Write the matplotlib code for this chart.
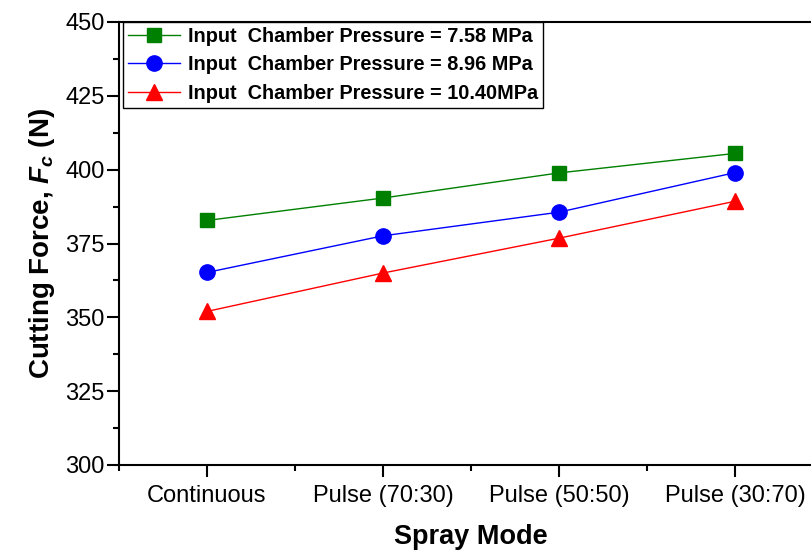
import matplotlib
matplotlib.use("Agg")
import matplotlib.pyplot as plt
from matplotlib.ticker import MultipleLocator, FixedLocator

plt.rcParams['font.family'] = ['Liberation Sans', 'DejaVu Sans']
plt.rcParams['mathtext.fontset'] = 'custom'
plt.rcParams['mathtext.it'] = 'Liberation Sans:italic:bold'
plt.rcParams['mathtext.rm'] = 'Liberation Sans:bold'

categories = ["Continuous", "Pulse (70:30)", "Pulse (50:50)", "Pulse (30:70)"]
series_labels = ["Input  Chamber Pressure = 7.58 MPa",
                 "Input  Chamber Pressure = 8.96 MPa",
                 "Input  Chamber Pressure = 10.40MPa"]
force_758 = [382.8, 390.4, 398.9, 405.5]
force_896 = [365.2, 377.6, 385.6, 399.0]
force_1040 = [352.0, 365.0, 376.8, 389.3]

fig = plt.figure(figsize=(8.11, 5.52), dpi=100)
ax = fig.add_axes([119/811, 1-465/552, 704/811, (465-22)/552])

x = list(range(len(categories)))
styles = [(force_758, 'green', 's', 9.5),
          (force_896, 'blue', 'o', 11),
          (force_1040, 'red', '^', 11.5)]
for (vals, c, m, ms), lab in zip(styles, series_labels):
    ax.plot(x, vals, color=c, marker=m, markersize=ms, linewidth=1.0,
            markeredgecolor=c, label=lab)

ax.set_xlim(-0.5, 3.5)
ax.set_ylim(300, 450)
ax.set_xticks(x)
ax.set_xticklabels(categories)
ax.xaxis.set_minor_locator(FixedLocator([-0.5, 0.5, 1.5, 2.5]))
ax.yaxis.set_major_locator(MultipleLocator(25))
ax.yaxis.set_minor_locator(MultipleLocator(12.5))
ax.tick_params(axis='both', which='major', direction='out', length=8.5, width=1.5, labelsize=17)
ax.tick_params(axis='both', which='minor', direction='out', length=4.5, width=1.5)
ax.tick_params(axis='x', which='major', pad=6)
ax.tick_params(axis='y', which='major', pad=2)
for s in ax.spines.values():
    s.set_linewidth(1.5)

ax.set_xlabel("Spray Mode", fontsize=19.5, fontweight='bold', labelpad=12)
ax.set_ylabel(r"Cutting Force, $\mathit{F_c}$ (N)", fontsize=20, fontweight='bold', labelpad=6)

leg = ax.legend(loc='upper left', bbox_to_anchor=(0.0, 1.01), fancybox=False,
                edgecolor='black', framealpha=1, prop={'weight': 'bold', 'size': 14.3},
                handlelength=2.6, borderpad=0.25, labelspacing=0.5,
                handletextpad=0.4, borderaxespad=0.2)
leg.get_frame().set_linewidth(1.0)

fig.savefig("out.png", dpi=100)
